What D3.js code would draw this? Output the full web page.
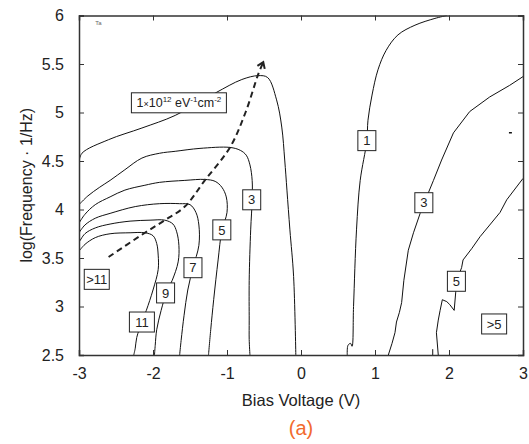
<!DOCTYPE html>
<html>
<head>
<meta charset="utf-8">
<script src="https://cdn.jsdelivr.net/npm/d3@7"></script>
<style>
  body { margin: 0; background: #fff; }
  text { font-family: "Liberation Sans", Arial, sans-serif; }
</style>
</head>
<body>
<script>
const width = 529;
const height = 444;
const margin = { top: 15.5, right: 6, bottom: 89, left: 79 };

// tick values
const xTicks = [-3, -2, -1, 0, 1, 2, 3];
const yTicks = [2.5, 3, 3.5, 4, 4.5, 5, 5.5, 6];

// contour lines, [bias V, log f]
const c1Left = [[-3, 4.49], [-2.96, 4.58], [-2.6, 4.72], [-2.15, 4.84], [-1.7, 4.97], [-1.16, 5.2],
  [-0.8, 5.34], [-0.58, 5.38], [-0.45, 5.36], [-0.33, 5.13], [-0.26, 4.85], [-0.22, 4.51],
  [-0.19, 4.2], [-0.15, 3.79], [-0.1, 3.31], [-0.07, 2.5]];
const c3Left = [[-3, 4.05], [-2.88, 4.14], [-2.72, 4.23], [-2.58, 4.3], [-2.38, 4.41], [-2.15, 4.53],
  [-1.91, 4.58], [-1.7, 4.6], [-1.365, 4.63], [-0.96, 4.64], [-0.82, 4.61], [-0.74, 4.56],
  [-0.69, 4.46], [-0.66, 4.3], [-0.66, 4.1], [-0.68, 3.79], [-0.7, 3.27], [-0.7, 2.86],
  [-0.7, 2.66], [-0.69, 2.5]];
const c5Left = [[-3, 3.86], [-2.92, 3.95], [-2.78, 4.05], [-2.58, 4.13], [-2.38, 4.2], [-2.11, 4.25],
  [-1.91, 4.28], [-1.57, 4.3], [-1.3, 4.31], [-1.16, 4.29], [-1.07, 4.23], [-1.01, 4.13],
  [-1.0, 3.97], [-1.07, 3.78], [-1.12, 3.48], [-1.18, 3.07], [-1.22, 2.76], [-1.25, 2.5]];
const c7 = [[-3, 3.76], [-2.92, 3.84], [-2.78, 3.91], [-2.58, 3.96], [-2.24, 4.03], [-1.91, 4.06],
  [-1.64, 4.06], [-1.5, 4.05], [-1.42, 3.97], [-1.38, 3.84], [-1.38, 3.63], [-1.46, 3.4],
  [-1.53, 3.17], [-1.58, 2.91], [-1.62, 2.65], [-1.64, 2.5]];
const c9 = [[-3, 3.66], [-2.92, 3.75], [-2.78, 3.81], [-2.58, 3.85], [-2.31, 3.88], [-2.04, 3.89],
  [-1.84, 3.89], [-1.73, 3.85], [-1.68, 3.77], [-1.65, 3.63], [-1.66, 3.46], [-1.74, 3.27],
  [-1.82, 3.14], [-1.89, 2.96], [-1.95, 2.76], [-1.97, 2.6], [-1.98, 2.5]];
const c11 = [[-3, 3.57], [-2.92, 3.64], [-2.78, 3.71], [-2.58, 3.75], [-2.31, 3.76], [-2.11, 3.76],
  [-2.0, 3.73], [-1.95, 3.65], [-1.93, 3.53], [-1.93, 3.38], [-2.0, 3.17], [-2.09, 2.96],
  [-2.15, 2.84], [-2.22, 2.68], [-2.24, 2.57], [-2.26, 2.5]];
const c1Right = [[0.625, 2.5], [0.635, 2.6], [0.67, 2.62], [0.69, 2.59], [0.71, 3.0], [0.75, 3.79],
  [0.8, 4.3], [0.89, 4.71], [0.905, 4.92], [0.96, 5.18], [1.04, 5.44], [1.15, 5.64],
  [1.31, 5.8], [1.54, 5.9], [1.81, 5.97], [1.97, 6.0]];
const c3Right = [[1.18, 2.5], [1.23, 2.62], [1.27, 2.73], [1.29, 2.84], [1.33, 2.94], [1.36, 3.04],
  [1.39, 3.27], [1.45, 3.58], [1.52, 3.76], [1.61, 3.96], [1.66, 4.07], [1.72, 4.17],
  [1.79, 4.3], [1.9, 4.51], [2.06, 4.79], [2.28, 5.01], [2.55, 5.16], [2.82, 5.28], [3.0, 5.37]];
const c5Right = [[1.855, 2.5], [1.83, 2.73], [1.855, 2.86], [1.88, 2.96], [1.91, 3.07], [1.97, 3.05],
  [2.01, 3.02], [2.07, 2.96], [2.09, 3.14], [2.1, 3.26], [2.17, 3.4], [2.19, 3.48], [2.31, 3.6],
  [2.42, 3.72], [2.55, 3.84], [2.69, 3.97], [2.78, 4.1], [3.0, 4.32]];
const fragA = [[1.78, 2.5], [1.78, 2.56]];
const fragB = [[2.81, 4.79], [2.85, 4.79]];

// dashed arrow path
const arrowPath = [[-2.6, 3.51], [-2.15, 3.74], [-1.84, 3.89], [-1.57, 4.03], [-1.3, 4.3],
  [-0.96, 4.64], [-0.75, 5.0], [-0.58, 5.39], [-0.51, 5.52]];

// labels
const labels = [
  { text: "3", v: -0.666, l: 4.10 },
  { text: "5", v: -1.07, l: 3.79 },
  { text: "7", v: -1.46, l: 3.40 },
  { text: "9", v: -1.83, l: 3.14 },
  { text: "11", v: -2.15, l: 2.84 },
  { text: ">11", v: -2.76, l: 3.28 },
  { text: "1", v: 0.89, l: 4.71 },
  { text: "3", v: 1.66, l: 4.07 },
  { text: "5", v: 2.10, l: 3.26 },
  { text: ">5", v: 2.61, l: 2.82 }
];
const unitLabel = { v: -1.65, l: 5.10 };

const x = d3.scaleLinear().domain([-3, 3]).range([margin.left, width - margin.right]);
const y = d3.scaleLinear().domain([2.5, 6]).range([height - margin.bottom, margin.top]);

const svg = d3.select('body').append('svg')
  .attr('width', width)
  .attr('height', height);

const line = d3.line()
  .x(d => x(d[0]))
  .y(d => y(d[1]));

const smooth = d3.line()
  .x(d => x(d[0]))
  .y(d => y(d[1]))
  .curve(d3.curveCatmullRom.alpha(0.5));

svg.append('defs').append('clipPath').attr('id', 'clip')
  .append('rect')
  .attr('x', x(-3)).attr('y', y(6))
  .attr('width', x(3) - x(-3)).attr('height', y(2.5) - y(6));

const plot = svg.append('g').attr('clip-path', 'url(#clip)');

[c1Left, c3Left, c5Left, c7, c9, c11, c1Right].forEach(c => {
  plot.append('path').attr('d', smooth(c))
    .attr('fill', 'none').attr('stroke', '#111').attr('stroke-width', 1);
});
[c3Right, c5Right, fragA].forEach(c => {
  plot.append('path').attr('d', line(c))
    .attr('fill', 'none').attr('stroke', '#111').attr('stroke-width', 1);
});
plot.append('path').attr('d', line(fragB))
  .attr('fill', 'none').attr('stroke', '#111').attr('stroke-width', 1.5);

// dashed arrow
svg.append('path').attr('d', smooth(arrowPath))
  .attr('fill', 'none').attr('stroke', '#222')
  .attr('stroke-width', 2).attr('stroke-dasharray', '6,4');
{
  const a = arrowPath[arrowPath.length - 1], b = arrowPath[arrowPath.length - 2];
  const tx = x(a[0]), ty = y(a[1]);
  const ang = Math.atan2(ty - y(b[1]), tx - x(b[0]));
  const len = 7, spread = 0.6;
  const p1 = [tx - len * Math.cos(ang - spread), ty - len * Math.sin(ang - spread)];
  const p2 = [tx - len * Math.cos(ang + spread), ty - len * Math.sin(ang + spread)];
  svg.append('path')
    .attr('d', `M${p1[0]},${p1[1]}L${tx},${ty}L${p2[0]},${p2[1]}`)
    .attr('fill', 'none').attr('stroke', '#222').attr('stroke-width', 2);
}

// contour labels
labels.forEach(d => {
  const g = svg.append('g').attr('transform', `translate(${x(d.v)},${y(d.l)})`);
  const w = d.text.length > 1 ? 25 : 18;
  g.append('rect').attr('x', -w / 2).attr('y', -10).attr('width', w).attr('height', 20)
    .attr('fill', '#fff').attr('stroke', '#222').attr('stroke-width', 1);
  g.append('text').attr('text-anchor', 'middle').attr('dy', '0.36em')
    .attr('font-size', 13).attr('fill', '#222').text(d.text);
});

{
  const g = svg.append('g').attr('transform', `translate(${x(unitLabel.v)},${y(unitLabel.l)})`);
  g.append('rect').attr('x', -47.5).attr('y', -10).attr('width', 95).attr('height', 20)
    .attr('fill', '#fff').attr('stroke', '#222').attr('stroke-width', 1);
  const t = g.append('text').attr('text-anchor', 'middle').attr('dy', '0.36em')
    .attr('font-size', 12.5).attr('fill', '#222');
  t.append('tspan').text('1');
  t.append('tspan').attr('font-size', 9).text('×');
  t.append('tspan').text('10');
  t.append('tspan').attr('font-size', 8).attr('dy', -5).text('12');
  t.append('tspan').attr('dy', 5).text(' eV');
  t.append('tspan').attr('font-size', 8).attr('dy', -5).text('-1');
  t.append('tspan').attr('dy', 5).text('cm');
  t.append('tspan').attr('font-size', 8).attr('dy', -5).text('-2');
}

svg.append('text').attr('x', x(-2.78)).attr('y', y(5.9))
  .attr('font-size', 6).attr('fill', '#666').text('Ta');

// axes, ticks pointing inward
const fmt = d => String(d);
svg.append('g').attr('transform', `translate(0,${y(2.5)})`)
  .call(d3.axisBottom(x).tickValues(xTicks).tickFormat(fmt).tickSize(-5).tickPadding(13))
  .call(g => g.selectAll('text').attr('font-size', 16).attr('fill', '#222'));
svg.append('g').attr('transform', `translate(0,${y(6)})`)
  .call(d3.axisTop(x).tickValues(xTicks).tickFormat('').tickSize(-5));
svg.append('g').attr('transform', `translate(${x(-3)},0)`)
  .call(d3.axisLeft(y).tickValues(yTicks).tickFormat(fmt).tickSize(-5).tickPadding(15))
  .call(g => g.selectAll('text').attr('font-size', 16).attr('fill', '#222'));
svg.append('g').attr('transform', `translate(${x(3)},0)`)
  .call(d3.axisRight(y).tickValues(yTicks).tickFormat('').tickSize(-5));

svg.selectAll('.domain').attr('stroke', '#333').attr('stroke-width', 1.5);
svg.selectAll('.tick line').attr('stroke', '#333');

svg.append('text').attr('x', (x(-3) + x(3)) / 2).attr('y', 406)
  .attr('text-anchor', 'middle').attr('font-size', 16.5).attr('fill', '#222')
  .text('Bias Voltage (V)');

svg.append('text')
  .attr('transform', `translate(26,${(y(2.5) + y(6)) / 2}) rotate(-90)`)
  .attr('text-anchor', 'middle').attr('dy', '0.35em').attr('font-size', 16).attr('fill', '#222')
  .text('log(Frequency · 1/Hz)');

svg.append('text').attr('x', (x(-3) + x(3)) / 2).attr('y', 435)
  .attr('text-anchor', 'middle').attr('font-size', 20).attr('fill', '#f26a2e')
  .text('(a)');
</script>
</body>
</html>
